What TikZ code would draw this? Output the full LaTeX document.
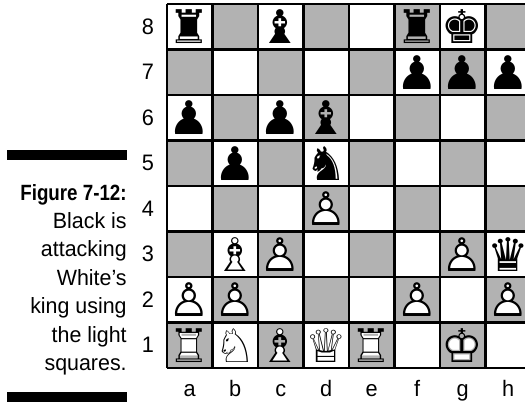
\documentclass[tikz,border=0pt]{standalone}
\usepackage{fontspec}
\setmainfont[FakeStretch=0.97, BoldFeatures={FakeStretch=0.85}]{Liberation Sans}
\newfontfamily\chessfont{DejaVu Sans}

\definecolor{darksq}{gray}{0.70}

\tikzset{
  lbl/.style={font=\fontsize{14}{16}\selectfont, inner sep=0pt},
  captext/.style={font=\fontsize{13.8}{16}\selectfont, anchor=base east, inner sep=0pt},
  piece/.style={font=\chessfont\fontsize{29}{29}\selectfont, inner sep=0pt},
  wfill/.style={piece, text=white}
}

% white men: white body under the outline glyph
\newcommand{\whiteman}[4]{%
  \node[wfill] at (#1) {#3};
  \node[piece] (#2) at (#1) {#4};}

\begin{document}
\begin{tikzpicture}
\clip (-3.67,-0.77) rectangle (7.868,8.088);

% squares
\foreach \f in {1,...,8}
  \foreach \r in {1,...,8} {
    \pgfmathtruncatemacro{\odd}{mod(\f+\r,2)}
    \ifnum\odd=0 \fill[darksq] (\f-1,\r-1) rectangle (\f,\r); \fi
  }
\draw[line width=1.5pt] (0,0) grid (8,8);

% ranks and files
\foreach \r in {1,...,8}
  \node[lbl] (rank\r) at (-0.42,\r-0.5) {\r};
\foreach \f [count=\i] in {a,b,c,d,e,f,g,h}
  \node[lbl, anchor=base] (file\f) at (\i-0.5,-0.63) {\f};

% black men
\node[piece] (a8) at (0.5,7.5) {♜};
\node[piece] (c8) at (2.5,7.5) {♝};
\node[piece] (f8) at (5.5,7.5) {♜};
\node[piece] (g8) at (6.5,7.5) {♚};
\foreach \sq/\x/\y in {f7/5.5/6.5, g7/6.5/6.5, h7/7.5/6.5,
                      a6/0.5/5.5, c6/2.5/5.5, b5/1.5/4.5}
  \node[piece] (\sq) at (\x,\y) {♟};
\node[piece] (d6) at (3.5,5.5) {♝};
\node[piece] (d5) at (3.5,4.5) {♞};
\node[piece] (h3) at (7.5,2.5) {♛};

% white men
\foreach \sq/\x/\y in {d4/3.5/3.5, c3/2.5/2.5, g3/6.5/2.5,
                      a2/0.5/1.5, b2/1.5/1.5, f2/5.5/1.5, h2/7.5/1.5}
  {\whiteman{\x,\y}{\sq}{♟}{♙}}
\whiteman{1.5,2.5}{b3}{♝}{♗}
\whiteman{0.5,0.5}{a1}{♜}{♖}
\whiteman{1.5,0.5}{b1}{♞}{♘}
\whiteman{2.5,0.5}{c1}{♝}{♗}
\whiteman{3.5,0.5}{d1}{♛}{♕}
\whiteman{4.5,0.5}{e1}{♜}{♖}
\whiteman{6.5,0.5}{g1}{♚}{♔}

% caption
\fill (-3.516,4.571) rectangle (-0.879,4.791);
\node[captext] (cap0) at (-0.879,3.692) {\textbf{Figure 7-12:}};
\node[captext] (cap1) at (-0.879,3.066) {Black is};
\node[captext] (cap2) at (-0.879,2.440) {attacking};
\node[captext] (cap3) at (-0.879,1.814) {White’s};
\node[captext] (cap4) at (-0.879,1.188) {king using};
\node[captext] (cap5) at (-0.879,0.562) {the light};
\node[captext] (cap6) at (-0.879,-0.064) {squares.};
\fill (-3.516,-0.527) rectangle (-0.879,-0.747);
\end{tikzpicture}
\end{document}
